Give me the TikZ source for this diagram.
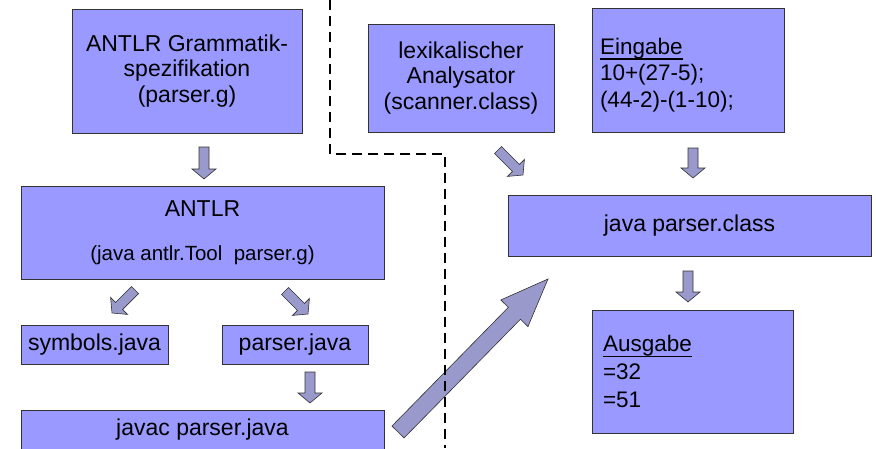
\documentclass[tikz,border=0pt]{standalone}
\usepackage{fontspec}
\setmainfont{Liberation Sans}
\usepackage{tikz}
\usetikzlibrary{calc}

\definecolor{boxfill}{HTML}{9999FF}
\definecolor{arrowfill}{HTML}{9999CC}
\definecolor{edgegray}{HTML}{333333}

% block arrow: tail, tip, shaft half width, head half width, head length
\newcommand{\fatarrow}[5]{%
  \coordinate (hb) at ($(#2)!#5!(#1)$);
  \draw[blockarrow] ($(#1)!#3!90:(#2)$) -- ($(hb)!#3!90:(#2)$) -- ($(hb)!#4!90:(#2)$) -- (#2)
    -- ($(hb)!#4!-90:(#2)$) -- ($(hb)!#3!-90:(#2)$) -- ($(#1)!#3!-90:(#2)$) -- cycle;}
% underlined heading in the listing boxes
\newcommand{\headline}[1]{{\setbox0\hbox{#1}\rlap{\rule[-5.5pt]{\wd0}{1.4pt}}\box0}}

\begin{document}
\begin{tikzpicture}[x=1pt, y=-1pt]
    % Define styles
    \tikzstyle{process} = [rectangle, draw=edgegray, line width=0.8pt, fill=boxfill, inner sep=0pt, align=center, font=\fontsize{23}{25.5}\selectfont]
    \tikzstyle{listing} = [process, align=left, inner xsep=8pt]
    \tikzstyle{blockarrow} = [draw=edgegray, line width=0.6pt, fill=arrowfill, line join=miter]
    \tikzstyle{border} = [line width=2.3pt, dash pattern=on 10pt off 6pt]

    \useasboundingbox (0,0) rectangle (876,448);

    % Nodes
    \node (gram) [process, minimum width=230pt, minimum height=124pt] at (187,71) {ANTLR Grammatik-\\spezifikation\\(parser.g)};
    \node (lex) [process, minimum width=186pt, minimum height=108pt] at (461,78) {lexikalischer\\Analysator\\(scanner.class)};
    \node (input) [listing, text width=176pt, minimum height=124pt, font=\fontsize{22.5}{26.5}\selectfont] at (688,70) {\rule{0pt}{26pt}\headline{Eingabe}\\10+(27-5);\\(44-2)-(1-10);};
    \node (antlr) [process, minimum width=363pt, minimum height=93pt] at (202.5,232.5) {ANTLR\\[18pt]{\fontsize{20.5}{22}\selectfont (java antlr.Tool\ \ parser.g)}};
    \node (sym) [process, minimum width=147pt, minimum height=39pt] at (94.5,344.5) {symbols.java};
    \node (pjava) [process, minimum width=146pt, minimum height=39pt] at (295,344.5) {parser.java};
    \node (javac) [process, minimum width=363pt, minimum height=40pt] at (202.5,430) {javac parser.java};
    \node (run) [process, minimum width=363pt, minimum height=61pt] at (689.5,225.5) {java parser.class};
    \node (output) [listing, text width=179pt, inner xsep=11pt, minimum height=123pt, font=\fontsize{22.5}{28}\selectfont] at (692.5,371.5) {\headline{Ausgabe}\\=32\\=51};

    % Arrows
    \coordinate (gram-a) at (204,147);  \coordinate (antlr-a) at (204,179);
    \coordinate (lex-a) at (498,150);   \coordinate (run-a) at (523,175);
    \coordinate (input-a) at (693,148); \coordinate (run-b) at (693,178);
    \coordinate (antlr-b) at (135,290); \coordinate (sym-a) at (112,313);
    \coordinate (antlr-c) at (285,291); \coordinate (pjava-a) at (308,314);
    \coordinate (pjava-b) at (310,372); \coordinate (javac-a) at (310,403);
    \coordinate (run-c) at (688,271);   \coordinate (output-a) at (688,302);
    \coordinate (javac-b) at (398,432); \coordinate (run-d) at (548,279);
    \fatarrow{gram-a}{antlr-a}{5pt}{12pt}{10pt}
    \fatarrow{lex-a}{run-a}{5pt}{12pt}{10pt}
    \fatarrow{input-a}{run-b}{5pt}{12pt}{10pt}
    \fatarrow{antlr-b}{sym-a}{5pt}{12pt}{10pt}
    \fatarrow{antlr-c}{pjava-a}{5pt}{12pt}{10pt}
    \fatarrow{pjava-b}{javac-a}{5pt}{12pt}{10pt}
    \fatarrow{run-c}{output-a}{5pt}{12pt}{10pt}
    \fatarrow{javac-b}{run-d}{8.5pt}{19pt}{48pt}

    % Separator
    \coordinate (sep-top) at (330,0);  \coordinate (sep-bend) at (330,154);
    \coordinate (sep-turn) at (445,154); \coordinate (sep-end) at (445,448);
    \draw [border] (sep-top) -- (sep-bend) -- (sep-turn) -- (sep-end);
\end{tikzpicture}
\end{document}
